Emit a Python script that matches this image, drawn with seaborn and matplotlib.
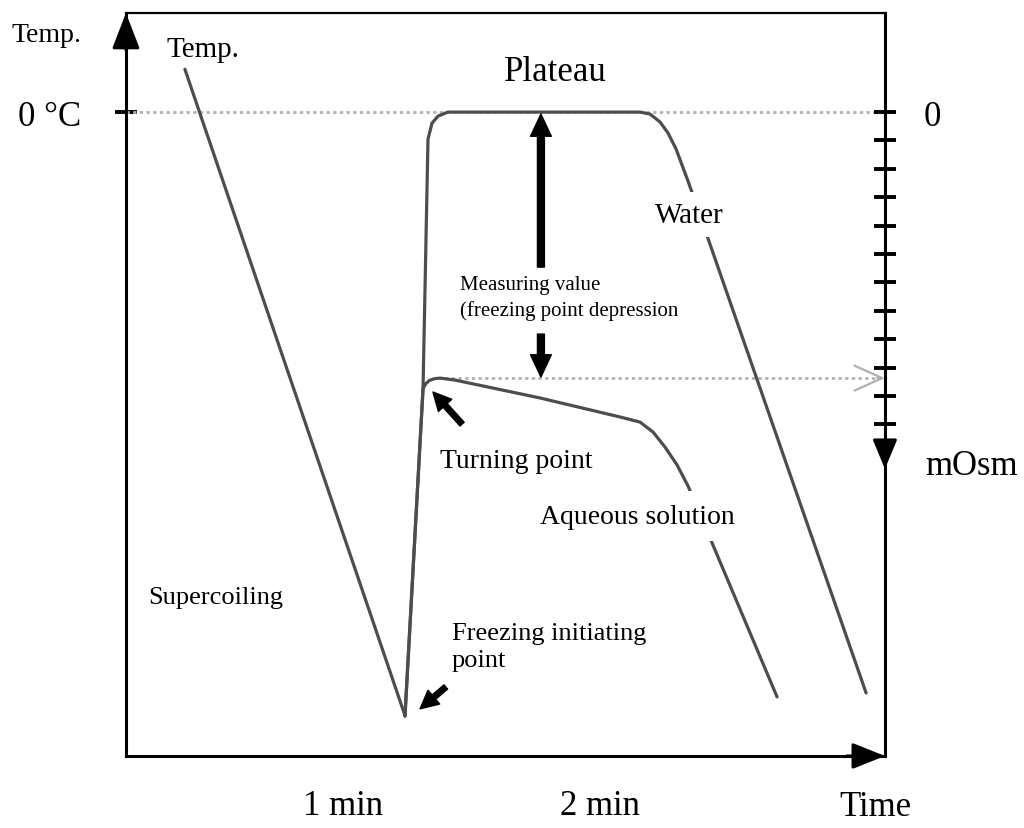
import matplotlib
matplotlib.use("Agg")
import matplotlib.pyplot as plt
import seaborn as sns

# Curve data (time in s, temperature in °C, schematic)
cool_t = [23.1, 74.5]
cool_T = [0.151, -2.127]

water_t = [74.47, 78.68, 79.84, 80.78, 82.18, 84.51, 129.34, 131.67, 134.01, 135.88, 137.74, 140.54, 182.10]
water_T = [-2.127, -0.975, -0.095, -0.039, -0.014, 0.0, 0.0, -0.007, -0.035, -0.074, -0.130, -0.243, -2.046]

aq_t = [74.47, 78.68, 79.30, 80.20, 81.40, 82.65, 86.15, 105.99, 124.67, 129.34, 132.37, 135.17, 137.98, 140.54, 161.32]
aq_T = [-2.127, -0.975, -0.957, -0.945, -0.939, -0.937, -0.944, -1.007, -1.074, -1.092, -1.127, -1.180, -1.243, -1.317, -2.060]

# Reference levels
plateau_T = 0.0
turning_T = -0.937
turning_t = 82.2

# Axis ticks
time_ticks = [60, 120]
time_labels = ["1 min", "2 min"]
osm_ticks = [0, -0.1, -0.2, -0.3, -0.4, -0.5, -0.6, -0.7, -0.8, -0.9, -1.0, -1.1]
osm_labels = ["0", "", "", "", "", "", "", "", "", "", "", ""]
osm_arrow_T = -1.257

xlim = (9.34, 186.5)
ylim = (-2.268, 0.349)

sns.set_style("white")
plt.rcParams["font.family"] = ["Liberation Serif", "DejaVu Serif"]
plt.rcParams["text.color"] = "black"
plt.rcParams["xtick.color"] = "black"
plt.rcParams["ytick.color"] = "black"

fig = plt.figure(figsize=(10.24, 8.29), dpi=100)
ax = fig.add_axes([0.1230, 0.0869, 0.7412, 0.8962])
ax.set_xlim(xlim)
ax.set_ylim(ylim)

line_col = "#4d4d4d"
dot_col = "#b3b3b3"

# Dotted reference lines
ax.hlines(plateau_T, xlim[0], xlim[1], colors=dot_col, linestyles=(0, (1.2, 1.2)), lw=2, zorder=1)
ax.hlines(turning_T, turning_t, xlim[1], colors=dot_col, linestyles=(0, (1.2, 1.2)), lw=2, zorder=1)
ax.annotate("", xy=(1.0, turning_T), xycoords=("axes fraction", "data"),
            xytext=(0.99, turning_T), textcoords=("axes fraction", "data"),
            arrowprops=dict(arrowstyle="->,head_length=2.0,head_width=0.9",
                            color="#b0b0b0", lw=1.6, shrinkA=0, shrinkB=0))

# Curves
sns.lineplot(x=cool_t, y=cool_T, ax=ax, color=line_col, lw=2.3, sort=False, estimator=None, zorder=2)
sns.lineplot(x=water_t, y=water_T, ax=ax, color=line_col, lw=2.3, sort=False, estimator=None, zorder=2)
sns.lineplot(x=aq_t, y=aq_T, ax=ax, color=line_col, lw=2.3, sort=False, estimator=None, zorder=2)

# Spines
for s in ax.spines.values():
    s.set_color("black")
    s.set_linewidth(2.2)
ax.spines["top"].set_linewidth(1.6)

# Axis arrow heads
ax.annotate("", xy=(0, 1), xytext=(0, 0.95), xycoords="axes fraction",
            arrowprops=dict(arrowstyle="-|>,head_length=2.2,head_width=0.85",
                            color="k", lw=2.2, shrinkA=0, shrinkB=0))
ax.annotate("", xy=(1, 0), xytext=(0.95, 0), xycoords="axes fraction",
            arrowprops=dict(arrowstyle="-|>,head_length=2.0,head_width=0.8",
                            color="k", lw=2.2, shrinkA=0, shrinkB=0))
ax.annotate("", xy=(1, osm_arrow_T), xycoords=("axes fraction", "data"),
            xytext=(1, osm_arrow_T + 0.1), textcoords=("axes fraction", "data"),
            arrowprops=dict(arrowstyle="-|>,head_length=1.8,head_width=0.75",
                            color="k", lw=2.2, shrinkA=0, shrinkB=0))

# Ticks
ax.set_xticks(time_ticks, time_labels)
ax.tick_params(axis="x", direction="inout", length=16, width=1.5, pad=16, labelsize=25)
ax.set_yticks([plateau_T], ["0 °C"])
ax.tick_params(axis="y", direction="inout", length=16, width=2.8, pad=24, labelsize=25)

ax2 = ax.twinx()
ax2.set_ylim(ylim)
ax2.set_yticks(osm_ticks, osm_labels)
ax2.tick_params(axis="y", direction="inout", length=16, width=2.8, pad=20, labelsize=25)
for s in ax2.spines.values():
    s.set_visible(False)

# Outside labels
fig.text(12 / 1024, 1 - 35 / 829, "Temp.", fontsize=20, va="center", ha="left")
fig.text(925 / 1024, 1 - 467 / 829, "mOsm", fontsize=25, va="center", ha="left")
fig.text(875 / 1024, 1 - 808 / 829, "Time", fontsize=25, va="center", ha="center")

# Inside labels
box = dict(facecolor="white", edgecolor="none")
ax.text(18.9, 0.222, "Temp.", fontsize=21, va="center", ha="left")
ax.text(109.5, 0.144, "Plateau", fontsize=25, va="center", ha="center")
ax.text(132.8, -0.362, "Water", fontsize=21, va="center", ha="left", bbox=dict(box, pad=7), zorder=3)
ax.text(87.3, -0.653, "Measuring value\n(freezing point depression", fontsize=15,
        va="center", ha="left", linespacing=1.45)
ax.text(82.6, -1.229, "Turning point", fontsize=20, va="center", ha="left")
ax.text(106.0, -1.423, "Aqueous solution", fontsize=20, va="center", ha="left", bbox=dict(box, pad=9), zorder=3)
ax.text(14.5, -1.708, "Supercoiling", fontsize=19, va="center", ha="left")
ax.text(85.4, -1.882, "Freezing initiating\npoint", fontsize=19, va="center", ha="left", linespacing=1.3)

# Annotation arrows
big = dict(arrowstyle="simple,head_length=0.8,head_width=0.75,tail_width=0.25",
           color="k", mutation_scale=20, shrinkA=0, shrinkB=0)
ax.annotate("", xy=(106.2, -0.007), xytext=(106.2, -0.546), arrowprops=big)
ax.annotate("", xy=(106.2, -0.933), xytext=(106.2, -0.782), arrowprops=big)
small = dict(arrowstyle="simple,head_length=0.65,head_width=0.65,tail_width=0.2",
             color="k", mutation_scale=20, shrinkA=0, shrinkB=0)
ax.annotate("", xy=(81.0, -0.986), xytext=(87.8, -1.099), arrowprops=small)
ax.annotate("", xy=(78.0, -2.102), xytext=(84.0, -2.025), arrowprops=small)

fig.savefig("out.png", dpi=100)
